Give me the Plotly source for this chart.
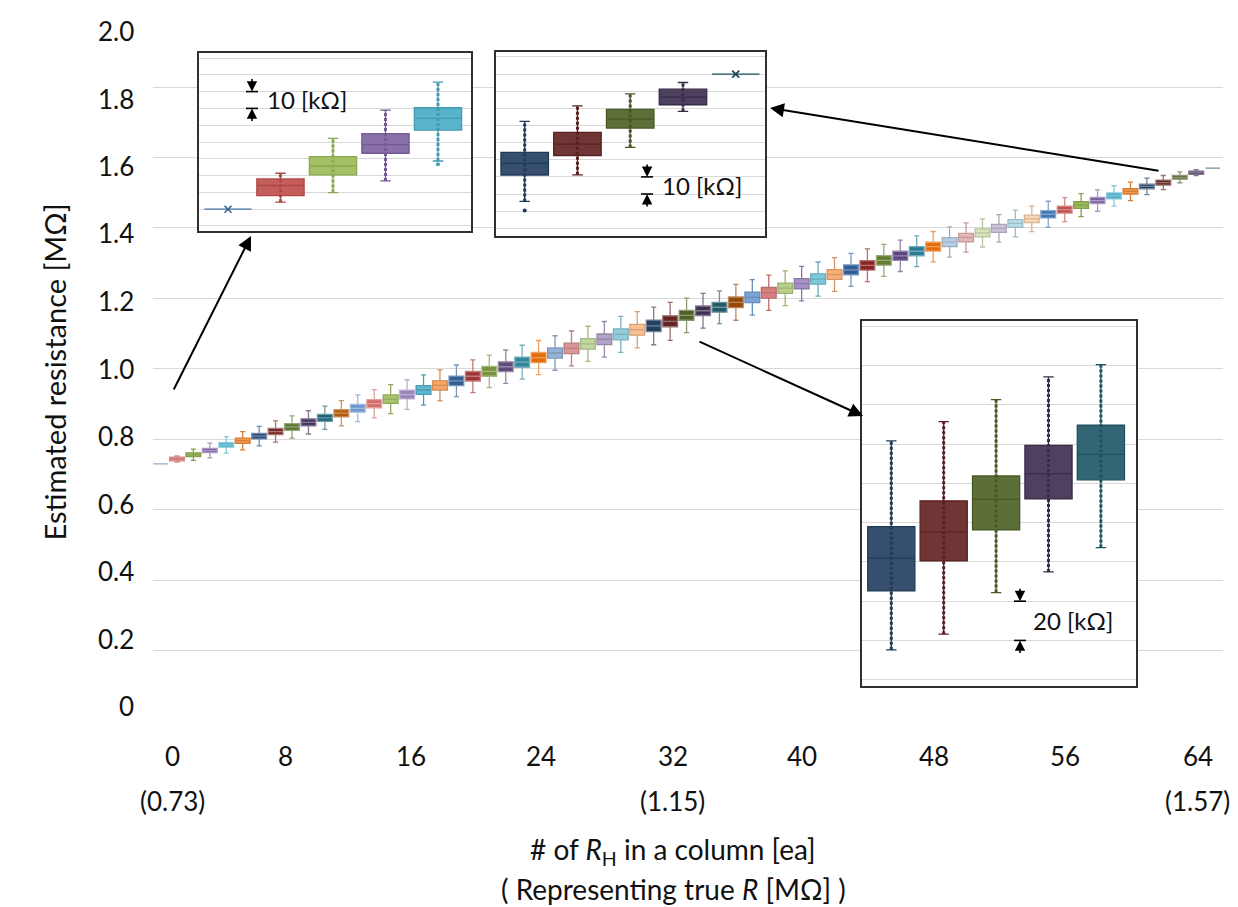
import plotly.graph_objects as go

FONT = "Lato"

# ---------------- data ----------------
idx = list(range(65))
medians = [0.730, 0.744, 0.756, 0.768, 0.784, 0.796, 0.809, 0.822, 0.835, 0.848,
           0.861, 0.874, 0.888, 0.901, 0.914, 0.927, 0.940, 0.953, 0.966, 0.979,
           0.993, 1.006, 1.019, 1.032, 1.045, 1.058, 1.071, 1.084, 1.098, 1.111,
           1.122, 1.135, 1.152, 1.165, 1.175, 1.189, 1.203, 1.216, 1.229, 1.242,
           1.255, 1.268, 1.281, 1.294, 1.308, 1.321, 1.334, 1.347, 1.360, 1.373,
           1.386, 1.399, 1.413, 1.426, 1.439, 1.452, 1.465, 1.478, 1.491, 1.504,
           1.518, 1.529, 1.544, 1.557, 1.570]
iqr = [0.000, 0.010, 0.011, 0.012, 0.013, 0.015, 0.016, 0.018, 0.019, 0.020,
       0.020, 0.021, 0.022, 0.023, 0.024, 0.025, 0.025, 0.026, 0.027, 0.027,
       0.028, 0.028, 0.029, 0.029, 0.029, 0.030, 0.030, 0.030, 0.031, 0.031,
       0.033, 0.031, 0.028, 0.027, 0.028, 0.030, 0.030, 0.030, 0.029, 0.029,
       0.029, 0.028, 0.028, 0.027, 0.027, 0.026, 0.026, 0.025, 0.025, 0.024,
       0.023, 0.023, 0.022, 0.021, 0.021, 0.020, 0.019, 0.018, 0.017, 0.015,
       0.013, 0.014, 0.011, 0.009, 0.000]
whisker = [0.000, 0.018, 0.032, 0.042, 0.047, 0.052, 0.055, 0.060, 0.063, 0.066,
           0.066, 0.072, 0.076, 0.080, 0.082, 0.084, 0.086, 0.088, 0.090, 0.093,
           0.092, 0.095, 0.096, 0.097, 0.098, 0.099, 0.100, 0.101, 0.102, 0.103,
           0.107, 0.108, 0.098, 0.099, 0.093, 0.102, 0.101, 0.100, 0.099, 0.098,
           0.097, 0.096, 0.094, 0.093, 0.091, 0.089, 0.087, 0.086, 0.086, 0.083,
           0.080, 0.078, 0.076, 0.073, 0.074, 0.068, 0.065, 0.061, 0.058, 0.052,
           0.047, 0.040, 0.031, 0.017, 0.000]
colors = ["#4F81BD", "#C0504D", "#9BBB59", "#8064A2", "#4BACC6", "#F79646",
          "#284B7A", "#7B2C2A", "#5A7530", "#45365E", "#1F6475", "#B35A0A",
          "#6E98CD", "#D16E6C", "#A9C46F", "#9984B7", "#5CB8D2", "#F8A766",
          "#325F94", "#9E3532", "#77933C", "#604A7B", "#31859C", "#E46C0A",
          "#95B3D7", "#D99694", "#C3D69B", "#B3A2C7", "#93CDDD", "#FAC090",
          "#244062", "#632523", "#4F6228", "#3F3151", "#215968", "#974806",
          "#7BA3D6", "#D98080", "#B8D08A", "#A690C4", "#7EC8DC", "#F9B07A",
          "#2F5E96", "#8B2525", "#617D2E", "#5B4680", "#2B7C93", "#E46C0A",
          "#B9CDE5", "#E6B9B8", "#D7E4BD", "#CCC1DA", "#B7DEE8", "#FCD5B5",
          "#3F72B0", "#C0504D", "#9BBB59", "#8064A2", "#4BACC6", "#F79646",
          "#244062", "#632523", "#4F6228", "#3F3151", "#215968"]

y_tickvals = [0, 0.2, 0.4, 0.6, 0.8, 1.0, 1.2, 1.4, 1.6, 1.8, 2.0]
y_ticktext = ["0", "0.2", "0.4", "0.6", "0.8", "1.0", "1.2", "1.4", "1.6", "1.8", "2.0"]
y_labelshift = [15, 12, 9, 6, 3, 0, -3, -5.5, -8.5, -11.5, -14.5]
x_tickvals = [0, 8, 16, 24, 32, 40, 48, 56, 64]
x_tickshift = [12, -7, -13, -14, -14, -16, -16, -16, -15]
x_subvals = [0, 32, 64]
x_subtext = ["(0.73)", "(1.15)", "(1.57)"]
x_subshift = [12, -14, -15]

# inset 1 (first five columns)
in1_idx = [0, 1, 2, 3, 4]
in1_q1 = [0.7300, 0.7381, 0.7504, 0.7633, 0.7771]
in1_med = [0.7300, 0.7441, 0.7557, 0.7684, 0.7841]
in1_q3 = [0.7300, 0.7480, 0.7613, 0.7750, 0.7904]
in1_lo = [0.7300, 0.7342, 0.7399, 0.7468, 0.7587]
in1_hi = [0.7300, 0.7514, 0.7722, 0.7890, 0.8056]
in1_out_x = [4]
in1_out_y = [0.7567]

# inset 2 (last five columns)
in2_idx = [60, 61, 62, 63, 64]
in2_q1 = [1.5111, 1.5225, 1.5385, 1.5521, 1.5700]
in2_med = [1.5179, 1.5291, 1.5437, 1.5566, 1.5700]
in2_q3 = [1.5243, 1.5360, 1.5494, 1.5612, 1.5700]
in2_lo = [1.4957, 1.5112, 1.5272, 1.5482, 1.5700]
in2_hi = [1.5424, 1.5515, 1.5585, 1.5651, 1.5700]
in2_out_x = [60]
in2_out_y = [1.4904]

# inset 3 (middle five columns)
in3_idx = [30, 31, 32, 33, 34]
in3_q1 = [1.1052, 1.1205, 1.1363, 1.1521, 1.1618]
in3_med = [1.1219, 1.1353, 1.1519, 1.1650, 1.1748]
in3_q3 = [1.1380, 1.1511, 1.1638, 1.1794, 1.1896]
in3_lo = [1.0752, 1.0832, 1.1044, 1.1149, 1.1273]
in3_hi = [1.1816, 1.1915, 1.2027, 1.2142, 1.2205]


# ---------------- helpers ----------------
def mix(c, other, t):
    a = [int(c.lstrip('#')[i:i + 2], 16) for i in (0, 2, 4)]
    b = [int(other.lstrip('#')[i:i + 2], 16) for i in (0, 2, 4)]
    m = [round(p * (1 - t) + q * t) for p, q in zip(a, b)]
    return '#%02X%02X%02X' % tuple(m)


def lum(c):
    r, g, b = [int(c.lstrip('#')[i:i + 2], 16) / 255 for i in (0, 2, 4)]
    return 0.299 * r + 0.587 * g + 0.114 * b


def edge(c):
    return mix(c, '#FFFFFF', 0.35) if lum(c) < 0.6 else mix(c, '#000000', 0.15)


W, H = 1238, 907
L, R, T, B = 145, 23, 8, 194
PW, PH = W - L - R, H - T - B


def px(x):
    return (x - L) / PW


def py(y):
    return (H - B - y) / PH


fig = go.Figure()

# ---------------- main boxes ----------------
for i in idx:
    m = medians[i]
    fig.add_trace(go.Box(
        x=[i], q1=[m - iqr[i] / 2], median=[m], q3=[m + iqr[i] / 2],
        lowerfence=[m - whisker[i] / 2], upperfence=[m + whisker[i] / 2],
        width=0.9, whiskerwidth=0.35, boxpoints=False,
        fillcolor=colors[i], line=dict(color=edge(colors[i]), width=1.3),
        xaxis='x', yaxis='y', showlegend=False, hoverinfo='skip'))


# ---------------- insets ----------------
def add_inset(n, ids, q1, med, q3, lo, hi, out_x, out_y):
    xa, ya = 'x%d' % n, 'y%d' % n
    for k, i in enumerate(ids):
        c = colors[i]
        fig.add_trace(go.Box(
            x=[i], q1=[q1[k]], median=[med[k]], q3=[q3[k]],
            lowerfence=[lo[k]], upperfence=[hi[k]],
            width=0.9, whiskerwidth=0.22, boxpoints=False,
            fillcolor=mix(c, '#FFFFFF', 0.08), line=dict(color=mix(c, '#000000', 0.1), width=1.3),
            xaxis=xa, yaxis=ya, showlegend=False, hoverinfo='skip'))
        if hi[k] > lo[k]:
            fig.add_trace(go.Scatter(
                x=[i, i], y=[lo[k], hi[k]], mode='lines',
                line=dict(color=mix(c, '#000000', 0.1), width=3, dash='3px,2px'),
                xaxis=xa, yaxis=ya, showlegend=False, hoverinfo='skip'))
        else:
            fig.add_trace(go.Scatter(
                x=[i], y=[med[k]], mode='markers',
                marker=dict(symbol='x-thin', size=7, line=dict(color=mix(c, '#000000', 0.25), width=1.6)),
                xaxis=xa, yaxis=ya, showlegend=False, hoverinfo='skip'))
    for ox, oy in zip(out_x, out_y):
        fig.add_trace(go.Scatter(
            x=[ox], y=[oy], mode='markers',
            marker=dict(size=4, color=mix(colors[ox], '#000000', 0.1)),
            xaxis=xa, yaxis=ya, showlegend=False, hoverinfo='skip'))


add_inset(2, in1_idx, in1_q1, in1_med, in1_q3, in1_lo, in1_hi, in1_out_x, in1_out_y)
add_inset(3, in2_idx, in2_q1, in2_med, in2_q3, in2_lo, in2_hi, in2_out_x, in2_out_y)
add_inset(4, in3_idx, in3_q1, in3_med, in3_q3, in3_lo, in3_hi, [], [])

grid = '#D9D9D9'
inset_common = dict(showticklabels=False, ticks='', zeroline=False, showline=True,
                    mirror=True, linecolor='#303030', linewidth=1.5)

fig.update_layout(
    width=W, height=H,
    margin=dict(l=L, r=R, t=T, b=B),
    paper_bgcolor='white', plot_bgcolor='white',
    font=dict(family=FONT, color='#111111'),
    boxmode='overlay',
    xaxis=dict(domain=[0, 1], range=[-0.456, 64.63], showgrid=False, zeroline=False,
               showticklabels=False, ticks='', showline=False),
    yaxis=dict(domain=[0, 1], range=[0, 2.002], tickvals=y_tickvals,
               showgrid=True, gridcolor=grid, gridwidth=1, zeroline=False, showline=False,
               ticks='', showticklabels=False),
    # inset 1
    xaxis2=dict(domain=[px(191), px(463)], anchor='y2', range=[-0.552, 4.629], showgrid=False, **inset_common),
    yaxis2=dict(domain=[py(223), py(45)], anchor='x2', range=[0.71702, 0.82298], showgrid=True,
                gridcolor=grid, tick0=0.72, dtick=0.01, **inset_common),
    # inset 2
    xaxis3=dict(domain=[px(488), px(757)], anchor='y3', range=[59.456, 64.555], showgrid=False, **inset_common),
    yaxis3=dict(domain=[py(228), py(44)], anchor='x3', range=[1.4755, 1.5829], showgrid=True,
                gridcolor=grid, tick0=1.48, dtick=0.01, **inset_common),
    # inset 3
    xaxis4=dict(domain=[px(854), px(1128)], anchor='y4', range=[29.441, 34.670], showgrid=False, **inset_common),
    yaxis4=dict(domain=[py(678), py(313)], anchor='x4', range=[1.0568, 1.2427], showgrid=True,
                gridcolor=grid, tick0=1.06, dtick=0.02, **inset_common),
)

ann = []
tick_font = dict(family=FONT, size=26, color='#111111')
title_font = dict(family=FONT, size=28, color='#111111')
# y tick labels
for v, t, s in zip(y_tickvals, y_ticktext, y_labelshift):
    ann.append(dict(x=px(128), xref='paper', y=v, yref='y', text=t, showarrow=False,
                    xanchor='right', yanchor='middle', yshift=s, font=tick_font))
# x tick labels
for v, s in zip(x_tickvals, x_tickshift):
    ann.append(dict(x=v, xref='x', y=py(748), yref='paper', text=str(v), showarrow=False,
                    xshift=s, yanchor='middle', font=tick_font))
for v, t, s in zip(x_subvals, x_subtext, x_subshift):
    ann.append(dict(x=v, xref='x', y=py(793), yref='paper', text=t, showarrow=False,
                    xshift=s, yanchor='middle', font=tick_font))
# axis titles
ann.append(dict(x=px(665), xref='paper', y=py(843), yref='paper', showarrow=False, yanchor='middle',
                text='# of <i>R</i><sub>H</sub> in a column [ea]', font=title_font))
ann.append(dict(x=px(665), xref='paper', y=py(881), yref='paper', showarrow=False, yanchor='middle',
                text='( Representing true <i>R</i> [MΩ] )', font=title_font))
ann.append(dict(x=px(26), xref='paper', y=py(364), yref='paper', showarrow=False, textangle=-90,
                text='Estimated resistance [MΩ]', font=dict(family=FONT, size=29, color='#111111')))

# big arrows: (head px, tail px) -> tail offset in pixels
for (hx, hy), (tx, ty) in [((243, 228), (165, 383)), ((762, 100), (1152, 163)), ((855, 408), (690, 333))]:
    ann.append(dict(x=px(hx), y=py(hy), xref='paper', yref='paper', ax=tx - hx, ay=ty - hy,
                    text='', showarrow=True, arrowhead=2,
                    arrowsize=1.4, arrowwidth=2, arrowcolor='black', standoff=0, startstandoff=0))

# scale bars inside insets
scale_bars = [('x2', 'y2', 0.457, 0.80, 0.79, 0.705, 0.795, '10 [kΩ]'),
              ('x3', 'y3', 62.32, 1.51, 1.50, 62.565, 1.505, '10 [kΩ]'),
              ('x4', 'y4', 32.456, 1.10, 1.08, 32.666, 1.09, '20 [kΩ]')]
shapes = []
for xa, ya, xv, top, bot, tx, tyv, txt in scale_bars:
    ann.append(dict(x=xv, y=top, xref=xa, yref=ya, ax=0, ay=-14, text='', showarrow=True,
                    arrowhead=2, arrowsize=1.3, arrowwidth=1.6, arrowcolor='black', standoff=0))
    ann.append(dict(x=xv, y=bot, xref=xa, yref=ya, ax=0, ay=14, text='', showarrow=True,
                    arrowhead=2, arrowsize=1.3, arrowwidth=1.6, arrowcolor='black', standoff=0))
    for yv in (top, bot):
        shapes.append(dict(type='line', xref=xa, yref=ya, xsizemode='pixel', xanchor=xv,
                           x0=-6, x1=6, y0=yv, y1=yv, line=dict(color='black', width=1.6)))
    ann.append(dict(x=tx, y=tyv, xref=xa, yref=ya, text=txt, showarrow=False, xanchor='left',
                    yanchor='middle', font=dict(family=FONT, size=24, color='#111111')))

# faint chart edge on the right
shapes.append(dict(type='line', xref='paper', yref='paper', x0=px(1224), x1=px(1224),
                   y0=py(722), y1=py(0), line=dict(color='#E3E3E3', width=1)))

fig.update_layout(annotations=ann, shapes=shapes)
fig.write_html("out.html")
